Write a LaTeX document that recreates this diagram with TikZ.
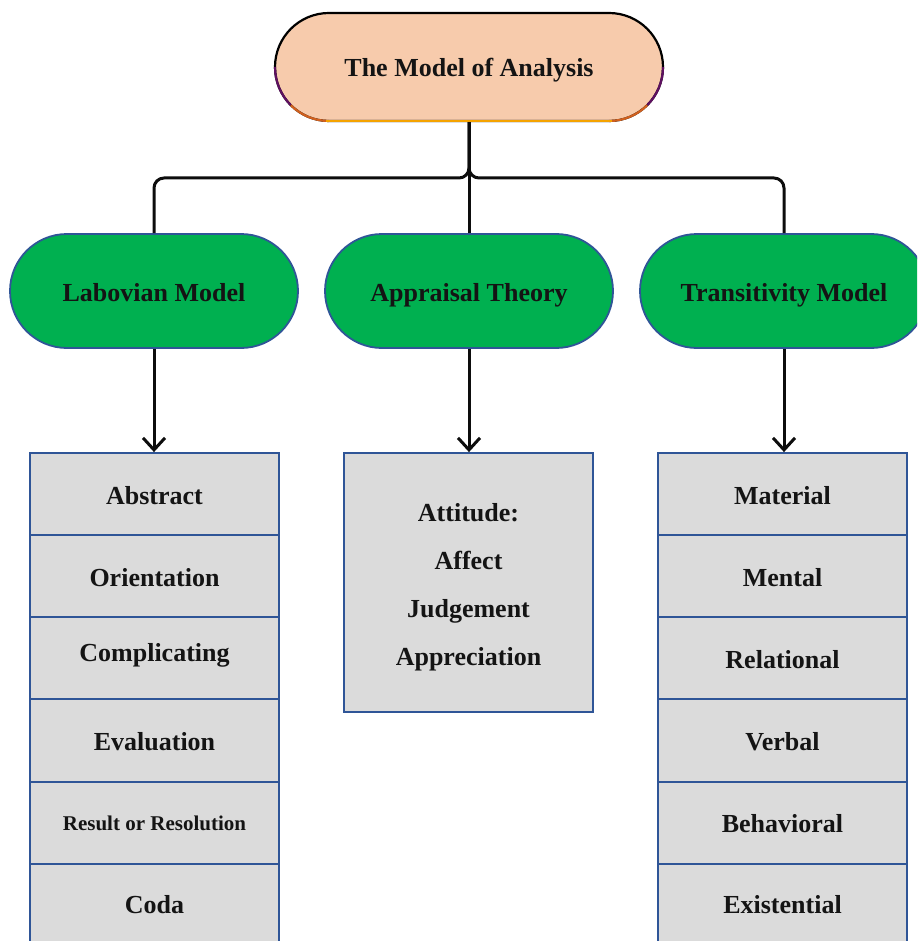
\documentclass[tikz,border=0pt]{standalone}
\usepackage{fontspec}
\setmainfont{Liberation Serif}
\usetikzlibrary{shapes.misc,arrows.meta}
\definecolor{peach}{HTML}{F7CBAC}
\definecolor{grn}{HTML}{00B050}
\definecolor{bdr}{HTML}{2F5597}
\definecolor{cellgray}{HTML}{DBDBDB}
\definecolor{txt}{HTML}{141414}
\definecolor{ringA}{HTML}{5E1060}
\definecolor{ringB}{HTML}{D0601E}
\definecolor{ringC}{HTML}{F5A300}
\tikzset{
  topbox/.style={rounded rectangle, fill=peach, draw=black, line width=2.2pt,
    minimum width=388pt, minimum height=108pt, inner sep=0pt,
    text height=20pt, text depth=0pt,
    font=\fontsize{26}{30}\selectfont\bfseries, text=txt},
  modelbox/.style={rounded rectangle, fill=grn, draw=bdr, line width=1.8pt,
    minimum width=288pt, minimum height=114pt, inner sep=0pt,
    text height=20pt, text depth=0pt,
    font=\fontsize{26}{30}\selectfont\bfseries, text=txt},
  cell/.style={rectangle, fill=cellgray, draw=bdr, line width=1.8pt,
    minimum width=249pt, minimum height=82pt, inner sep=0pt,
    text height=20pt, text depth=0pt,
    font=\fontsize{26}{30}\selectfont\bfseries, text=txt},
  celltext/.style={inner sep=0pt, font=\fontsize{26}{48}\selectfont\bfseries, text=txt},
  conn/.style={draw=black!95, line width=3pt},
  arr/.style={conn, -{Straight Barb[length=12pt,width=22pt,line width=3pt]}},
}
\begin{document}
\begin{tikzpicture}[x=1pt,y=-1pt]
\useasboundingbox (0,0) rectangle (917,941);
\begin{scope}
\clip (0,0) rectangle (917,941);
% top node
\node[topbox] (top) at (469,67) {The Model of Analysis};
\draw[ringA, line width=2.2pt] (275,67) .. controls (275,81.3) and (280.7,95.1) .. (290.8,105.2);
\draw[ringB, line width=2.2pt] (290.8,105.2) .. controls (300.9,115.3) and (314.7,121) .. (329,121);
\draw[ringA, line width=2.2pt] (663,67) .. controls (663,81.3) and (657.3,95.1) .. (647.2,105.2);
\draw[ringB, line width=2.2pt] (647.2,105.2) .. controls (637.1,115.3) and (623.3,121) .. (609,121);
\draw[ringC, line width=2.2pt] (326,121) -- (612,121);

% model nodes
\node[modelbox] (lab) at (154,291) {Labovian Model};
\node[modelbox] (app) at (469,291) {Appraisal Theory};
\node[modelbox] (tra) at (784,291) {Transitivity Model};

% connectors
\coordinate (j) at (469,178);
\draw[conn, rounded corners=10pt] (top.south) -- (j) -| (lab.north);
\draw[conn, rounded corners=10pt] (top.south) -- (j) -| (tra.north);
\draw[conn] (top.south) -- (app.north);

% left column
\node[cell, text height=21pt] (l1) at (154.5,494) {Abstract};
\node[cell] (l2) at (154.5,576) {Orientation};
\node[cell, text height=6pt] (l3) at (154.5,658) {Complicating};
\node[cell] (l4) at (154.5,740.5) {Evaluation};
\node[cell, text height=15.5pt, font=\fontsize{21}{25}\selectfont\bfseries] (l5) at (154.5,823) {Result or Resolution};
\node[cell, text height=17pt] (l6) at (154.5,905) {Coda};

% middle box
\node[cell, minimum height=259pt] (mid) at (468.5,582.5) {};
\node[celltext, align=center, anchor=base] (midtext) at (468.5,665)
  {Attitude:\\Affect\\Judgement\\Appreciation};

% right column
\node[cell, text height=20pt] (r1) at (782.5,494) {Material};
\node[cell] (r2) at (782.5,576) {Mental};
\node[cell] (r3) at (782.5,658) {Relational};
\node[cell] (r4) at (782.5,740.5) {Verbal};
\node[cell, text height=18pt] (r5) at (782.5,823) {Behavioral};
\node[cell, text height=17pt] (r6) at (782.5,905) {Existential};

% arrows
\draw[arr] (lab.south) -- (lab.south |- l1.north);
\draw[arr] (app.south) -- (app.south |- mid.north);
\draw[arr] (tra.south) -- (tra.south |- r1.north);
\end{scope}
\end{tikzpicture}
\end{document}
